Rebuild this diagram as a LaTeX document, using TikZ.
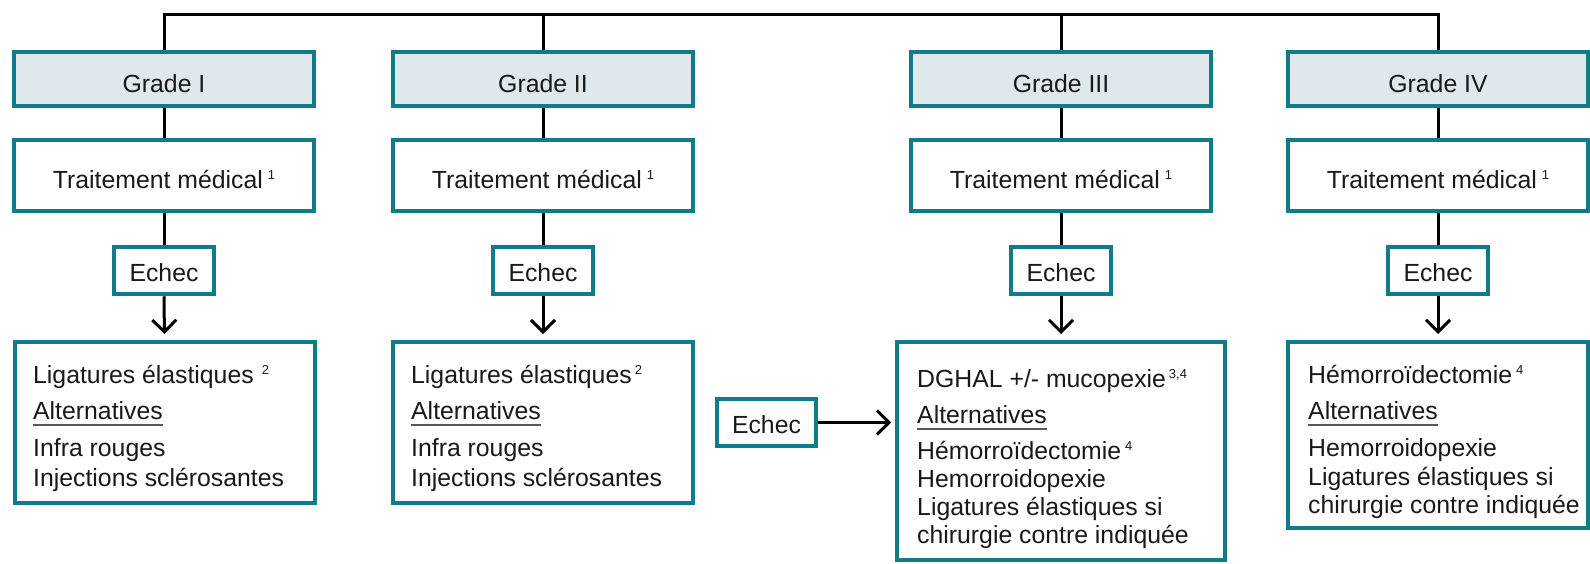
\documentclass[tikz,border=0pt]{standalone}
\usepackage{fontspec}
\setmainfont{Liberation Sans}
\usetikzlibrary{arrows.meta}
\definecolor{tealb}{RGB}{16,124,138}
\definecolor{gfill}{RGB}{222,232,237}
\definecolor{txt}{RGB}{25,25,25}
\newcommand{\supx}[2]{\hspace{#1}\raisebox{9pt}{\fontsize{13}{13}\selectfont #2}}
\begin{document}
\begin{tikzpicture}[x=1pt,y=-1pt,
  box/.style={draw=tealb, line width=4pt, inner sep=0pt, font=\fontsize{24.8}{29}\selectfont, text=txt},
  gradebox/.style={box, fill=gfill, minimum width=300pt, minimum height=54pt, text height=26pt, text depth=0pt},
  medbox/.style={box, fill=white, minimum width=300pt, minimum height=71pt, text height=25pt, text depth=0pt},
  echecbox/.style={box, fill=white, minimum width=99.5pt, minimum height=47.5pt, text height=21pt, text depth=0pt},
  resbox/.style={draw=tealb, line width=4pt, fill=white, inner sep=0pt},
  txtline/.style={anchor=base west, inner sep=0pt, font=\fontsize{24.8}{29}\selectfont, text=txt},
  conn/.style={draw=black, line width=3pt},
  arr/.style={conn, -{Straight Barb[length=12pt,width=24pt,line width=3pt]}},
  uline/.style={draw=black!65, line width=2pt}
]
\useasboundingbox (0,0) rectangle (1590,563);

% grade boxes
\node[gradebox] (g1) at (164,79) {Grade I};
\node[gradebox] (g2) at (543,79) {Grade II};
\node[gradebox] (g3) at (1061,79) {Grade III};
\node[gradebox] (g4) at (1438,79) {Grade IV};

% traitement boxes
\node[medbox] (m1) at (164,175.5) {Traitement médical\supx{5pt}{1}};
\node[medbox] (m2) at (543,175.5) {Traitement médical\supx{5pt}{1}};
\node[medbox] (m3) at (1061,175.5) {Traitement médical\supx{5pt}{1}};
\node[medbox] (m4) at (1438,175.5) {Traitement médical\supx{5pt}{1}};

% echec boxes
\node[echecbox] (e1) at (164,270.5) {Echec};
\node[echecbox] (e2) at (543,270.5) {Echec};
\node[echecbox] (e3) at (1061,270.5) {Echec};
\node[echecbox] (e4) at (1438,270.5) {Echec};
\node[echecbox] (e5) at (766.5,422.5) {Echec};

% result boxes
\node[resbox, minimum width=300pt, minimum height=161pt] (r1) at (164.5,422.5) {};
\node[resbox, minimum width=300pt, minimum height=161pt] (r2) at (543,422.5) {};
\node[resbox, minimum width=328pt, minimum height=218pt] (r3) at (1061,451) {};
\node[resbox, minimum width=300pt, minimum height=186pt] (r4) at (1438,435) {};

% top connectors
\coordinate (top) at (0,14);
\draw[conn, line join=miter] (g1.north) -- (g1.north |- top) -- (g4.north |- top) -- (g4.north);
\draw[conn] (g2.north) -- (g2.north |- top);
\draw[conn] (g3.north) -- (g3.north |- top);

% vertical connectors
\foreach \i in {1,2,3,4}{
  \draw[conn] (g\i.south) -- (m\i.north);
  \draw[conn] (m\i.south) -- (e\i.north);
  \draw[arr, shorten >=6pt] (e\i.south) -- (r\i.north);
}
\draw[arr, shorten >=4pt] (e5.east) -- (r3.west |- e5.east);

% Grade I texts
\node[txtline] (t11) at (33,383) {Ligatures élastiques\supx{8pt}{2}};
\node[txtline] (a1) at (33,419) {Alternatives};
\node[txtline] (t13) at (33,456) {Infra rouges};
\node[txtline] (t14) at (33,486) {Injections sclérosantes};

% Grade II texts
\node[txtline] (t21) at (411,383) {Ligatures élastiques\supx{3pt}{2}};
\node[txtline] (a2) at (411,419) {Alternatives};
\node[txtline] (t23) at (411,456) {Infra rouges};
\node[txtline] (t24) at (411,486) {Injections sclérosantes};

% Grade III texts
\node[txtline] (t31) at (917,387) {DGHAL +/- mucopexie\supx{3pt}{3,4}};
\node[txtline] (a3) at (917,423) {Alternatives};
\node[txtline] (t33) at (917,459) {Hémorroïdectomie\supx{4pt}{4}};
\node[txtline] (t34) at (917,487) {Hemorroidopexie};
\node[txtline] (t35) at (917,515) {Ligatures élastiques si};
\node[txtline] (t36) at (917,543) {chirurgie contre indiquée};

% Grade IV texts
\node[txtline] (t41) at (1308,383) {Hémorroïdectomie\supx{4pt}{4}};
\node[txtline] (a4) at (1308,419) {Alternatives};
\node[txtline] (t43) at (1308,456) {Hemorroidopexie};
\node[txtline] (t44) at (1308,485) {Ligatures élastiques si};
\node[txtline] (t45) at (1308,513) {chirurgie contre indiquée};

% underlines
\foreach \a in {a1,a2,a3,a4}{
  \draw[uline] ([yshift=-6pt]\a.base west) -- ([yshift=-6pt]\a.base east);
}
\end{tikzpicture}
\end{document}
